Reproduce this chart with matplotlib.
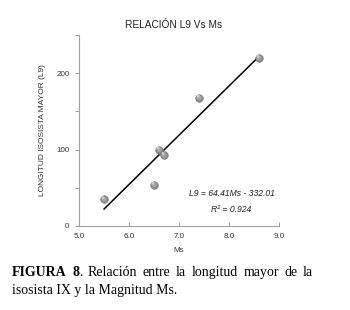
import numpy as np
import matplotlib.pyplot as plt
from matplotlib.ticker import MultipleLocator

# ==== data ====
ms = [5.5, 6.5, 6.6, 6.7, 7.4, 8.6]
l9 = [35, 54, 100, 93, 168, 220]
slope, intercept = 64.41, -332.01
r2 = 0.924

plt.rcParams['font.family'] = ['Liberation Sans', 'DejaVu Sans']

fig = plt.figure(figsize=(3.5, 3.1), dpi=100)
ax = fig.add_axes([0.226, 0.271, 0.571, 0.616])

# trend line over the data range
xl = np.array([min(ms), max(ms)])
ax.plot(xl, slope * xl + intercept, color='black', lw=1.1, zorder=2)

# shaded "sphere" markers
ax.scatter(ms, l9, s=30, c='#8a8a8a', edgecolors='#777777', linewidths=0.4, zorder=3)
ax.scatter(ms, l9, s=13, c='#a6a6a6', edgecolors='none', zorder=4)
ax.scatter(np.array(ms) - 0.02, np.array(l9) + 2, s=4, c='#cfcfcf', edgecolors='none', zorder=5)

ax.set_xlim(5, 9)
ax.set_ylim(0, 250)
ax.set_xticks([5, 6, 7, 8, 9])
ax.set_xticklabels(['5.0', '6.0', '7.0', '8.0', '9.0'])
ax.set_yticks([0, 100, 200])
ax.yaxis.set_minor_locator(MultipleLocator(50))

for side in ['top', 'right']:
    ax.spines[side].set_visible(False)
for side in ['left', 'bottom']:
    ax.spines[side].set_color('#a0a0a0')
    ax.spines[side].set_linewidth(0.8)
ax.tick_params(which='both', colors='#a0a0a0', labelcolor='#333333', labelsize=5.8,
               length=3, width=0.7)
ax.tick_params(axis='x', direction='in', pad=5)
ax.tick_params(axis='y', pad=4)

ax.set_title('RELACIÓN L9 Vs Ms', fontsize=7.3, color='#222222', pad=5, x=0.475)
ax.set_xlabel('Ms', fontsize=5.8, color='#333333', labelpad=5)
ax.set_ylabel('LONGITUD ISOSISTA MAYOR (L9)', fontsize=6, color='#333333', labelpad=7)

ax.text(8.05, 43, 'L9 = %.2fMs - %.2f' % (slope, -intercept), fontsize=6.2,
        style='italic', ha='center', va='center', color='#222222')
ax.text(8.05, 22, 'R² = %.3f' % r2, fontsize=6.2, style='italic',
        ha='center', va='center', color='#222222')

# ==== caption, justified first line ====
serif = 'Liberation Serif'
fig.canvas.draw()
rend = fig.canvas.get_renderer()
# each word is a list of (text, weight) pieces
line1 = [[('FIGURA', 'bold')], [('8', 'bold'), ('.', 'normal')], [('Relación', 'normal')],
         [('entre', 'normal')], [('la', 'normal')], [('longitud', 'normal')],
         [('mayor', 'normal')], [('de', 'normal')], [('la', 'normal')]]
x0, x1 = 12 / 350, 313 / 350
y1 = 1 - 276 / 310
words = []
for word in line1:
    pieces = []
    for txt, wt in word:
        a = fig.text(0, y1, txt, fontsize=10, family=serif, weight=wt, va='baseline')
        pieces.append((a, a.get_window_extent(rend).width / fig.bbox.width))
    words.append(pieces)
wwidth = [sum(w for _, w in p) for p in words]
gap = (x1 - x0 - sum(wwidth)) / (len(words) - 1)
x = x0
for pieces, ww in zip(words, wwidth):
    px = x
    for a, w in pieces:
        a.set_x(px)
        px += w
    x += ww + gap
fig.text(x0, 1 - 294 / 310, 'isosista IX y la Magnitud Ms.', fontsize=10, family=serif,
         va='baseline')

fig.savefig('out.png', dpi=100)
